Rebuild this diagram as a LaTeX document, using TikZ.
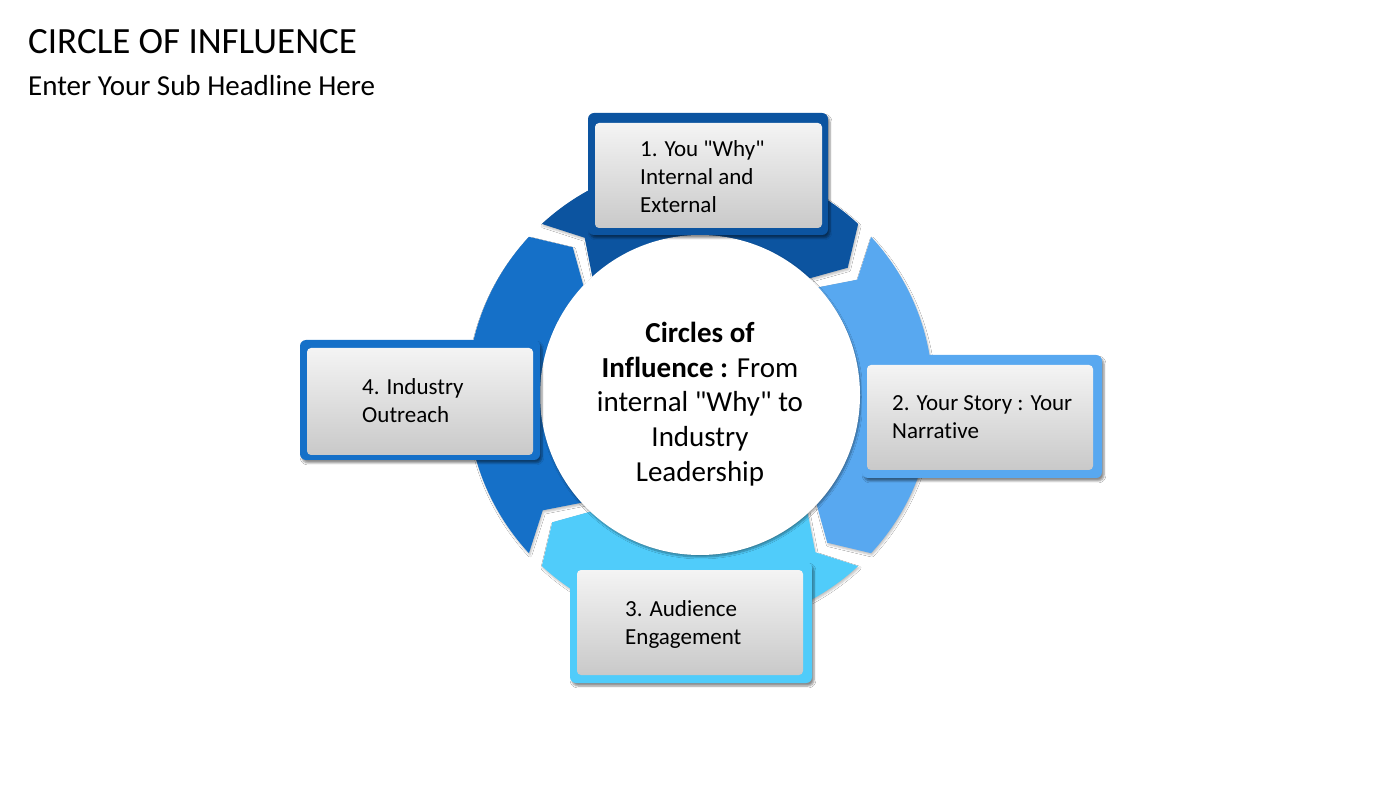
\documentclass[tikz,border=0pt]{standalone}
\usepackage{fontspec}
\setmainfont{Carlito}[Ligatures={NoCommon}]
\usetikzlibrary{shadows.blur,calc}
\definecolor{segA}{HTML}{0C54A0}
\definecolor{segB}{HTML}{58A8F0}
\definecolor{segC}{HTML}{50CCFA}
\definecolor{segD}{HTML}{1570C8}
\definecolor{boxtop}{HTML}{F4F4F4}
\definecolor{boxbot}{HTML}{C9C9C9}
\newcommand\qq{\textquotedbl}
\tikzset{
  boxouter/.style={draw=none, rounded corners=6pt, inner sep=0pt,
    blur shadow={shadow xshift=2pt, shadow yshift=-3pt, shadow blur steps=6, shadow opacity=45}},
  boxinner/.style={draw=none, rounded corners=4pt, inner sep=0pt, top color=boxtop, bottom color=boxbot},
  boxtext/.style={anchor=west, align=left, inner sep=0pt, font=\fontsize{23}{28}\selectfont},
  segshade/.style={blur shadow={shadow xshift=1pt, shadow yshift=-2pt, shadow blur steps=4, shadow opacity=25}},
}
\newcommand\ringseg[3]{%
  \fill[#3, segshade] ({#1-2.25}:233pt) arc[start angle={#1-2.25}, end angle={#2+2.25}, radius=233pt]
    -- ({#2+2.25-6.5}:195pt) -- ({#2+2.25}:158pt)
    arc[start angle={#2+2.25}, end angle={#1-2.25}, radius=158pt]
    -- ({#1-2.25-6.5}:195pt) -- cycle;}
\begin{document}
\begin{tikzpicture}[x=1pt,y=1pt]
\useasboundingbox[fill=white] (0,0) rectangle (1400,788);
% titles
\node[anchor=base west, inner sep=0pt, font=\fontsize{37}{44}\selectfont] (title) at (28,734) {CIRCLE OF INFLUENCE};
\node[anchor=base west, inner sep=0pt, font=\fontsize{29}{35}\selectfont] (sub) at (28,692) {Enter Your Sub Headline Here};
% ring
\coordinate (O) at (700,393);
\begin{scope}[shift={(O)}]
  \ringseg{135}{45}{segA}
  \ringseg{45}{-45}{segB}
  \ringseg{-45}{-135}{segC}
  \ringseg{225}{135}{segD}
\end{scope}
% centre circle
\node[circle, fill=white, minimum size=320pt, inner sep=0pt,
  blur shadow={shadow xshift=1pt, shadow yshift=-2pt, shadow blur steps=8, shadow opacity=40}] (ctr) at (O) {};
\node[align=center, inner sep=0pt, font=\fontsize{29}{34.6}\selectfont] (ctrt) at (700,384)
  {\textbf{Circles of}\\\textbf{Influence :} From\\internal \qq Why\qq{} to\\Industry\\Leadership};
% box 1
\node[boxouter, fill=segA, minimum width=240pt, minimum height=122pt] (b1o) at (708,614) {};
\node[boxinner, minimum width=227pt, minimum height=105pt] (b1) at (708.5,612.5) {};
\node[boxtext] (b1t) at (640,611) {1. You \qq Why\qq\\Internal and\\External};
% box 2
\node[boxouter, fill=segB, minimum width=240pt, minimum height=123pt] (b2o) at (982,371.5) {};
\node[boxinner, minimum width=226pt, minimum height=105pt] (b2) at (980,370.5) {};
\node[boxtext] (b2t) at (892,370.5) {2. Your Story : Your\\Narrative};
% box 3
\node[boxouter, fill=segC, minimum width=242pt, minimum height=121pt] (b3o) at (691,165.5) {};
\node[boxinner, minimum width=226pt, minimum height=105pt] (b3) at (690,165.5) {};
\node[boxtext] (b3t) at (625,164) {3. Audience\\Engagement};
% box 4
\node[boxouter, fill=segD, minimum width=240pt, minimum height=120pt] (b4o) at (420,388) {};
\node[boxinner, minimum width=226pt, minimum height=107pt] (b4) at (420,386.5) {};
\node[boxtext] (b4t) at (362,387.5) {4. Industry\\Outreach};
\end{tikzpicture}
\end{document}
